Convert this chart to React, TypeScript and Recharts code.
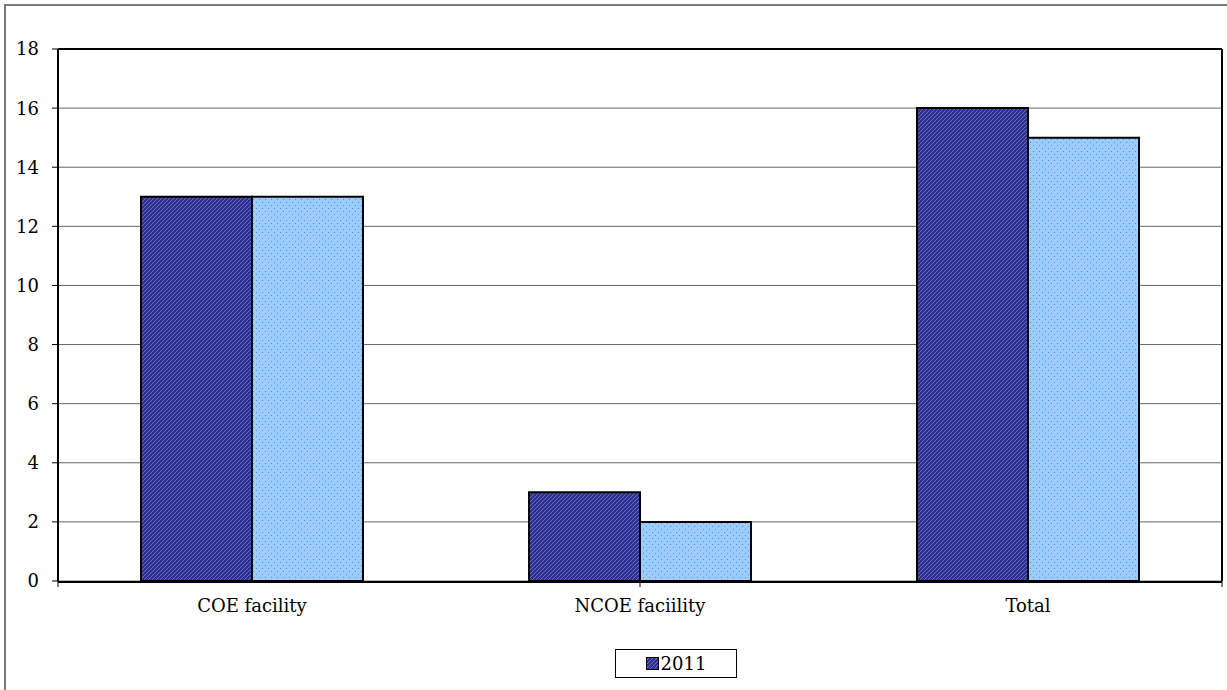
import { BarChart, Bar, XAxis, YAxis, CartesianGrid, Legend } from "recharts";

const categories = ["COE facility", "NCOE faciility", "Total"];
const values2011 = [13, 3, 16];
const valuesSecond = [13, 2, 15];
const yTicks = [0, 2, 4, 6, 8, 10, 12, 14, 16, 18];
const edgeTicks = [0, 1, 2, 3];

const data = categories.map((name, i) => ({
  name,
  y2011: values2011[i],
  second: valuesSecond[i],
}));

const FONT = "'DejaVu Serif', 'Liberation Serif', serif";

function LegendBox(props: any) {
  const items = (props.payload ?? []).filter((p: any) => p.type !== "none");
  return (
    <div
      style={{
        border: "1px solid #000",
        width: 122,
        height: 29,
        boxSizing: "border-box",
        display: "flex",
        alignItems: "center",
        justifyContent: "center",
        fontFamily: FONT,
        fontSize: 18,
        color: "#000",
      }}
    >
      {items.map((p: any) => (
        <span key={p.value} style={{ display: "flex", alignItems: "center" }}>
          <svg width={13} height={13} style={{ marginRight: 2 }}>
            <rect x={0.5} y={0.5} width={12} height={12} fill="url(#hatch)" stroke="#000" />
          </svg>
          {p.value}
        </span>
      ))}
    </div>
  );
}

export default function App() {
  return (
    <div style={{ position: "fixed", left: 0, top: 0, width: 1227, height: 690, background: "#fff", fontFamily: FONT }}>
      <div
        style={{
          position: "absolute",
          left: 4,
          top: 4,
          width: 1240,
          height: 700,
          border: "2px solid #7a7a7a",
          boxSizing: "border-box",
        }}
      />
      <BarChart
        width={1227}
        height={690}
        data={data}
        margin={{ top: 48, right: 4, left: 8, bottom: 78 }}
        barCategoryGap={83}
        barGap={0}
      >
        <defs>
          <pattern id="hatch" patternUnits="userSpaceOnUse" width={4} height={4}>
            <rect width={4} height={4} fill="#30308e" />
            <path d="M-1,1 l2,-2 M0,4 l4,-4 M3,5 l2,-2" stroke="#6a6ac8" strokeWidth={1} />
          </pattern>
          <pattern id="dots" patternUnits="userSpaceOnUse" width={6} height={6}>
            <rect width={6} height={6} fill="#99ccff" />
            <rect x={1} y={1} width={1} height={1} fill="#7a7acc" />
            <rect x={4} y={4} width={1} height={1} fill="#7a7acc" />
          </pattern>
        </defs>
        <CartesianGrid xAxisId="cat" yAxisId="left" vertical={false} stroke="#666" />
        {/* frame: top edge and right edge of the plot */}
        <XAxis xAxisId="top" orientation="top" dataKey="name" height={1} tick={false} tickLine={false} axisLine={{ stroke: "#000", strokeWidth: 2 }} />
        <YAxis yAxisId="right" orientation="right" width={1} domain={[0, 18]} tick={false} tickLine={false} axisLine={{ stroke: "#000", strokeWidth: 2 }} />
        {/* tick marks on category boundaries, stacked next to the plot */}
        <XAxis
          xAxisId={0}
          type="number"
          domain={[0, 3]}
          ticks={edgeTicks}
          height={1}
          axisLine={false}
          tickSize={6}
          tickLine={{ stroke: "#000" }}
          tickFormatter={() => ""}
        />
        <XAxis
          xAxisId="cat"
          dataKey="name"
          height={30}
          tickLine={false}
          tickSize={0}
          tickMargin={17}
          axisLine={{ stroke: "#000", strokeWidth: 2 }}
          tick={{ fill: "#000", fontFamily: FONT, fontSize: 18 }}
        />
        <YAxis
          yAxisId="left"
          width={50}
          domain={[0, 18]}
          ticks={yTicks}
          tickSize={6}
          tickMargin={13}
          axisLine={{ stroke: "#000", strokeWidth: 2 }}
          tickLine={{ stroke: "#000" }}
          tick={{ fill: "#000", fontFamily: FONT, fontSize: 18 }}
        />
        <Legend
          verticalAlign="middle"
          align="center"
          layout="horizontal"
          content={<LegendBox />}
          wrapperStyle={{ left: 615, top: 649, width: 124, height: 30 }}
        />
        <Bar xAxisId="cat" yAxisId="left" dataKey="y2011" name="2011" fill="url(#hatch)" stroke="#000" strokeWidth={2} isAnimationActive={false} />
        <Bar xAxisId="cat" yAxisId="left" dataKey="second" legendType="none" fill="url(#dots)" stroke="#000" strokeWidth={2} isAnimationActive={false} />
      </BarChart>
    </div>
  );
}
